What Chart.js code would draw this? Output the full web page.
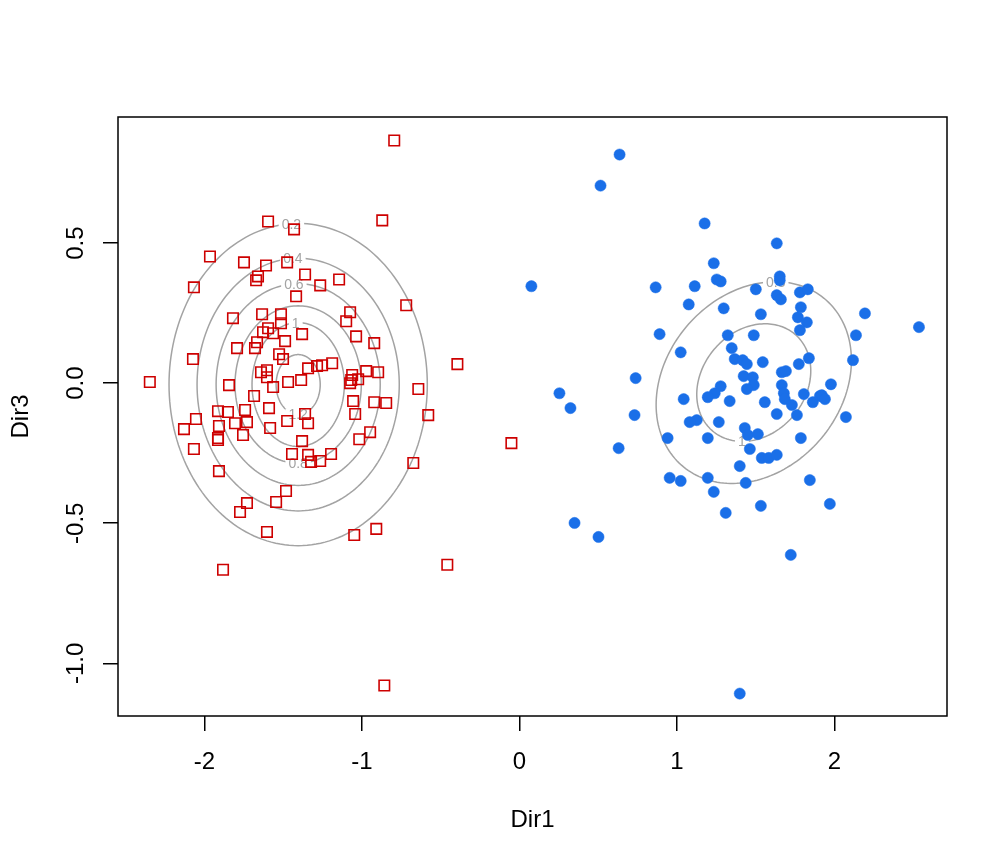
<!DOCTYPE html>
<html lang="en">
<head>
    <meta charset="UTF-8">
    <title>Dir1 vs Dir3</title>
    <style>
        body {
            margin: 0;
            padding: 0;
            background-color: #ffffff;
        }
        canvas {
            display: block;
        }
    </style>
    <script src="https://cdn.jsdelivr.net/npm/chart.js"></script>
</head>
<body>
    <canvas id="scatterChart" width="1008" height="864"></canvas>
    <script>
        // group 1 (red open squares)
        const redX = [-1.596, -1.431, -1.965, -1.749, -1.609, -1.475, -1.361, -1.265, -1.145, -1.660,
            -1.672, -2.067, -1.418, -1.819, -0.795, -0.871, -0.719, -1.075, -1.100, -1.634,
            -1.514, -1.514, -1.596, -1.628, -1.564, -1.488, -1.380, -1.666, -1.793, -1.679,
            -2.073, -1.526, -1.501, -1.342, -1.285, -1.253, -1.189, -1.641, -1.603, -1.603,
            -2.347, -1.844, -1.564, -1.469, -1.386, -1.685, -1.914, -1.851, -1.742, -1.590,
            -1.361, -1.342, -2.054, -2.130, -1.908, -1.806, -1.730, -1.475, -1.583, -1.914,
            -1.914, -1.755, -1.380, -2.067, -1.444, -1.342, -1.323, -1.265, -1.196, -1.908,
            -1.037, -0.922, -0.394, -1.062, -1.068, -1.024, -0.973, -0.897, -1.075, -0.642,
            -1.056, -0.922, -0.846, -0.579, -1.043, -1.017, -0.948, -0.051, -0.674, -1.730,
            -1.774, -1.482, -1.545, -1.603, -1.049, -0.909, -0.458, -1.882, -0.858];
        const redY = [0.577, 0.549, 0.452, 0.431, 0.420, 0.431, 0.388, 0.349, 0.370, 0.381,
            0.367, 0.342, 0.310, 0.232, 0.866, 0.581, 0.278, 0.253, 0.221, 0.246,
            0.246, 0.214, 0.196, 0.182, 0.178, 0.150, 0.175, 0.146, 0.125, 0.125,
            0.086, 0.103, 0.086, 0.053, 0.061, 0.064, 0.071, 0.039, 0.046, 0.021,
            0.004, -0.007, -0.014, 0.004, 0.011, -0.046, -0.100, -0.103, -0.096, -0.089,
            -0.110, -0.143, -0.128, -0.164, -0.153, -0.143, -0.139, -0.135, -0.160, -0.196,
            -0.203, -0.185, -0.207, -0.235, -0.253, -0.256, -0.281, -0.278, -0.253, -0.314,
            0.167, 0.143, 0.068, 0.029, 0.011, 0.014, 0.043, 0.039, 0.000, -0.021,
            -0.064, -0.068, -0.071, -0.114, -0.110, -0.200, -0.175, -0.214, -0.285, -0.428,
            -0.460, -0.385, -0.424, -0.531, -0.542, -0.520, -0.648, -0.666, -1.079];

        // group 2 (blue filled dots)
        const blueX = [0.636, 0.515, 0.076, 1.176, 1.634, 1.234, 1.653, 1.653, 1.253, 1.278,
            0.865, 1.113, 1.501, 1.634, 1.660, 1.781, 1.831, 1.075, 1.297, 1.787,
            1.533, 1.768, 1.825, 1.781, 0.890, 1.323, 1.488, 2.194, 2.537, 2.137,
            1.024, 1.348, 1.367, 1.418, 1.444, 1.545, 1.774, 1.838, 2.118, 0.738,
            1.424, 1.482, 1.488, 1.444, 1.666, 1.692, 1.666, 1.679, 1.685, 1.730,
            1.806, 1.863, 1.908, 1.978, 1.920, 1.940, 1.278, 1.240, 1.196, 1.043,
            1.335, 1.558, 0.731, 1.634, 1.762, 2.073, 1.126, 1.081, 1.266, 1.431,
            1.450, 1.514, 0.941, 1.196, 1.787, 1.463, 1.539, 1.583, 1.634, 1.399,
            0.954, 1.024, 1.196, 1.437, 1.844, 1.234, 1.533, 1.310, 1.971, 0.254,
            0.324, 0.630, 0.350, 0.502, 1.723, 1.399];
        const blueY = [0.816, 0.705, 0.346, 0.570, 0.499, 0.428, 0.381, 0.367, 0.370, 0.363,
            0.342, 0.346, 0.335, 0.314, 0.299, 0.324, 0.335, 0.281, 0.267, 0.271,
            0.246, 0.235, 0.217, 0.189, 0.175, 0.171, 0.171, 0.249, 0.200, 0.171,
            0.110, 0.125, 0.086, 0.082, 0.068, 0.075, 0.068, 0.089, 0.082, 0.018,
            0.025, 0.021, -0.007, -0.021, 0.039, 0.043, -0.007, -0.036, -0.057, -0.078,
            -0.039, -0.068, -0.046, -0.004, -0.043, -0.057, -0.011, -0.036, -0.050, -0.057,
            -0.064, -0.068, -0.114, -0.110, -0.114, -0.121, -0.132, -0.139, -0.139, -0.160,
            -0.185, -0.182, -0.196, -0.196, -0.196, -0.235, -0.267, -0.267, -0.256, -0.296,
            -0.338, -0.349, -0.338, -0.356, -0.346, -0.388, -0.438, -0.463, -0.431, -0.036,
            -0.089, -0.232, -0.499, -0.549, -0.613, -1.108];

        // axes
        const xTicks = [-2, -1, 0, 1, 2];
        const xTickLabels = ['-2', '-1', '0', '1', '2'];
        const yTicks = [-1.0, -0.5, 0.0, 0.5];
        const yTickLabels = ['-1.0', '-0.5', '0.0', '0.5'];
        const xTitle = 'Dir1';
        const yTitle = 'Dir3';

        // density contours (ellipses) for each group
        const redLevels = ['0.2', '0.4', '0.6', '0.8', '1', '1.2'];
        const redCentre = [-1.405, -0.005];
        const redSemiX = [0.820, 0.642, 0.521, 0.401, 0.293, 0.140];
        const redSemiY = [0.575, 0.451, 0.360, 0.281, 0.221, 0.107];
        const redCorr = [0, 0, 0, 0, 0, 0];
        const redLabelAt = [93, 93, 93, 270, 93, 270];

        const blueLevels = ['0.5', '1'];
        const blueCentre = [1.488, 0.002];
        const blueSemiX = [0.620, 0.362];
        const blueSemiY = [0.360, 0.210];
        const blueCorr = [0.22, 0.20];
        const blueLabelAt = [77, 258];

        const RED = '#CD0000';
        const BLUE = '#1A6FE8';
        const GREY = '#A3A3A3';
        const FONT = '"Liberation Sans", Arial, Helvetica, sans-serif';

        function toPoints(xs, ys) {
            return xs.map((x, i) => ({ x: x, y: ys[i] }));
        }

        function ellipsePoint(c, sx, sy, r, deg) {
            const t = deg * Math.PI / 180;
            const s = Math.sqrt(1 - r * r);
            return {
                x: c[0] + sx * Math.cos(t),
                y: c[1] + sy * (r * Math.cos(t) + s * Math.sin(t))
            };
        }

        function drawContours(chart, centre, levels, semiX, semiY, corr, labelAt) {
            const ctx = chart.ctx;
            const xs = chart.scales.x;
            const ys = chart.scales.y;
            ctx.strokeStyle = GREY;
            ctx.lineWidth = 1.5;
            levels.forEach((lev, i) => {
                ctx.beginPath();
                for (let k = 0; k <= 180; k++) {
                    const p = ellipsePoint(centre, semiX[i], semiY[i], corr[i], k * 2);
                    const px = xs.getPixelForValue(p.x);
                    const py = ys.getPixelForValue(p.y);
                    if (k === 0) ctx.moveTo(px, py); else ctx.lineTo(px, py);
                }
                ctx.stroke();
            });
            ctx.font = '14px ' + FONT;
            ctx.textAlign = 'center';
            ctx.textBaseline = 'middle';
            levels.forEach((lev, i) => {
                const p = ellipsePoint(centre, semiX[i], semiY[i], corr[i], labelAt[i]);
                const px = xs.getPixelForValue(p.x);
                const py = ys.getPixelForValue(p.y);
                const w = ctx.measureText(lev).width + 6;
                ctx.fillStyle = '#ffffff';
                ctx.fillRect(px - w / 2, py - 6, w, 12);
                ctx.fillStyle = GREY;
                ctx.fillText(lev, px, py + 1);
            });
        }

        const contourPlugin = {
            id: 'contours',
            beforeDatasetsDraw(chart) {
                const a = chart.chartArea;
                const ctx = chart.ctx;
                ctx.save();
                ctx.beginPath();
                ctx.rect(a.left, a.top, a.right - a.left, a.bottom - a.top);
                ctx.clip();
                drawContours(chart, redCentre, redLevels, redSemiX, redSemiY, redCorr, redLabelAt);
                drawContours(chart, blueCentre, blueLevels, blueSemiX, blueSemiY, blueCorr, blueLabelAt);
                ctx.restore();
            }
        };

        // box, tick labels and axis titles in the R base-graphics style
        const framePlugin = {
            id: 'frame',
            afterDraw(chart) {
                const a = chart.chartArea;
                const ctx = chart.ctx;
                const xs = chart.scales.x;
                const ys = chart.scales.y;
                ctx.save();
                ctx.strokeStyle = '#000';
                ctx.lineWidth = 1.5;
                ctx.strokeRect(a.left, a.top, a.right - a.left, a.bottom - a.top);

                ctx.fillStyle = '#000';
                ctx.font = '24px ' + FONT;
                ctx.textAlign = 'center';
                ctx.textBaseline = 'alphabetic';
                xTicks.forEach((v, i) => {
                    ctx.fillText(xTickLabels[i], xs.getPixelForValue(v), 769);
                });
                ctx.fillText(xTitle, (a.left + a.right) / 2, 827);

                yTicks.forEach((v, i) => {
                    ctx.save();
                    ctx.translate(83, ys.getPixelForValue(v));
                    ctx.rotate(-Math.PI / 2);
                    ctx.fillText(yTickLabels[i], 0, 0);
                    ctx.restore();
                });
                ctx.save();
                ctx.translate(28, (a.top + a.bottom) / 2);
                ctx.rotate(-Math.PI / 2);
                ctx.fillText(yTitle, 0, 0);
                ctx.restore();
                ctx.restore();
            }
        };

        const axisGrid = {
            display: true,
            drawOnChartArea: false,
            drawTicks: true,
            tickLength: 15,
            color: '#000',
            lineWidth: 1.5
        };

        const ctx = document.getElementById('scatterChart').getContext('2d');
        new Chart(ctx, {
            type: 'scatter',
            data: {
                datasets: [{
                    label: 'group 1',
                    data: toPoints(redX, redY),
                    pointStyle: 'rect',
                    pointRadius: 7.4,
                    pointHoverRadius: 7.4,
                    backgroundColor: 'rgba(0,0,0,0)',
                    borderColor: RED,
                    borderWidth: 1.6
                }, {
                    label: 'group 2',
                    data: toPoints(blueX, blueY),
                    pointStyle: 'circle',
                    pointRadius: 5.6,
                    pointHoverRadius: 5.6,
                    backgroundColor: BLUE,
                    borderColor: BLUE,
                    borderWidth: 0.5
                }]
            },
            options: {
                responsive: false,
                animation: false,
                devicePixelRatio: 1,
                layout: {
                    padding: { top: 117, right: 61, bottom: 0, left: 0 }
                },
                plugins: {
                    legend: { display: false },
                    tooltip: { enabled: false }
                },
                scales: {
                    x: {
                        type: 'linear',
                        min: -2.549,
                        max: 2.715,
                        afterBuildTicks: axis => { axis.ticks = xTicks.map(v => ({ value: v })); },
                        afterFit: axis => { axis.height = 148; },
                        ticks: { display: false },
                        grid: axisGrid,
                        border: { display: false }
                    },
                    y: {
                        type: 'linear',
                        min: -1.188,
                        max: 0.950,
                        afterBuildTicks: axis => { axis.ticks = yTicks.map(v => ({ value: v })); },
                        afterFit: axis => { axis.width = 118; },
                        ticks: { display: false },
                        grid: axisGrid,
                        border: { display: false }
                    }
                }
            },
            plugins: [contourPlugin, framePlugin]
        });
    </script>
</body>
</html>
